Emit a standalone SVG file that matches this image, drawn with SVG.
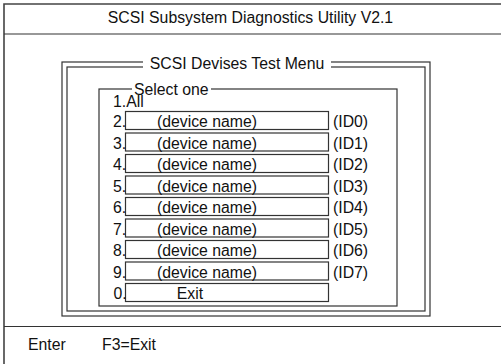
<svg xmlns="http://www.w3.org/2000/svg" width="501" height="364" viewBox="0 0 501 364">
<style>
text{font-family:"Liberation Sans",Arial,sans-serif;font-size:15.8px;fill:#111}
.ln{fill:none;stroke:#333;stroke-width:1.2}
.fr{fill:none;stroke:#444;stroke-width:1.6}
.box{fill:#fff;stroke:#333;stroke-width:1.2}
.gap{fill:#fff;stroke:none}
.mid{text-anchor:middle}
</style>
<rect width="501" height="364" fill="#fff"/>
<g id="screen">
<path class="fr" d="M4,364 V4 H501"/>
<line class="ln" x1="4" y1="34" x2="501" y2="34"/>
<line class="ln" x1="4" y1="326.5" x2="501" y2="326.5"/>
<text id="title" class="mid" x="250.5" y="23">SCSI Subsystem Diagnostics Utility V2.1</text>
</g>
<g id="menu-frame">
<rect class="ln" x="62" y="62" width="368" height="254"/>
<rect class="ln" x="67" y="67" width="358" height="244"/>
<rect class="gap" x="143" y="58" width="188" height="12"/>
<text class="mid" x="237" y="68.5">SCSI Devises Test Menu</text>
</g>
<g id="select-group">
<rect class="ln" x="99" y="89" width="298" height="217"/>
<rect class="gap" x="132" y="85" width="79" height="8"/>
<text x="134" y="95">Select one</text>
<text x="113" y="107">1.All</text>
</g>
<g id="rows">
<g id="row2"><rect class="box" x="125.5" y="111.5" width="203" height="18"/><text x="113" y="127">2.</text><text class="mid" x="207" y="127">(device name)</text><text x="333" y="127">(ID0)</text></g>
<g id="row3"><rect class="box" x="125.5" y="133" width="203" height="18"/><text x="113" y="148.5">3.</text><text class="mid" x="207" y="148.5">(device name)</text><text x="333" y="148.5">(ID1)</text></g>
<g id="row4"><rect class="box" x="125.5" y="154.5" width="203" height="18"/><text x="113" y="170">4.</text><text class="mid" x="207" y="170">(device name)</text><text x="333" y="170">(ID2)</text></g>
<g id="row5"><rect class="box" x="125.5" y="176" width="203" height="18"/><text x="113" y="191.5">5.</text><text class="mid" x="207" y="191.5">(device name)</text><text x="333" y="191.5">(ID3)</text></g>
<g id="row6"><rect class="box" x="125.5" y="197.5" width="203" height="18"/><text x="113" y="213">6.</text><text class="mid" x="207" y="213">(device name)</text><text x="333" y="213">(ID4)</text></g>
<g id="row7"><rect class="box" x="125.5" y="219" width="203" height="18"/><text x="113" y="234.5">7.</text><text class="mid" x="207" y="234.5">(device name)</text><text x="333" y="234.5">(ID5)</text></g>
<g id="row8"><rect class="box" x="125.5" y="240.5" width="203" height="18"/><text x="113" y="256">8.</text><text class="mid" x="207" y="256">(device name)</text><text x="333" y="256">(ID6)</text></g>
<g id="row9"><rect class="box" x="125.5" y="262" width="203" height="18"/><text x="113" y="277.5">9.</text><text class="mid" x="207" y="277.5">(device name)</text><text x="333" y="277.5">(ID7)</text></g>
<g id="row0"><rect class="box" x="125.5" y="283.5" width="203" height="18"/><text x="113.5" y="299">0.</text><text class="mid" x="190" y="299">Exit</text></g>
</g>
<g id="footer">
<text x="28" y="350">Enter</text>
<text x="102" y="350">F3=Exit</text>
</g>
</svg>
